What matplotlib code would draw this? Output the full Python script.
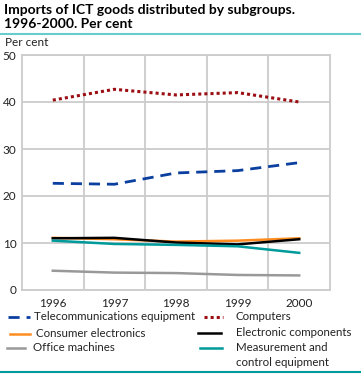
import matplotlib
matplotlib.use('Agg')
import matplotlib.pyplot as plt
from matplotlib.lines import Line2D

years = ['1996', '1997', '1998', '1999', '2000']
telecom = [22.7, 22.5, 24.9, 25.4, 27.1]
computers = [40.4, 42.7, 41.5, 42.0, 40.0]
consumer = [11.1, 10.8, 10.3, 10.5, 11.0]
components = [11.0, 11.1, 10.1, 9.7, 10.8]
office = [4.1, 3.7, 3.6, 3.2, 3.1]
measurement = [10.5, 9.8, 9.6, 9.3, 7.9]

plt.rcParams['font.family'] = ['Lato', 'DejaVu Sans']
grid_col = '#cccccc'
txt_col = '#222222'

fig = plt.figure(figsize=(3.61, 3.74), dpi=100)
ax = fig.add_axes([22 / 361, 1 - 290 / 374, 308 / 361, 235 / 374])

x = range(len(years))
series = [
    (telecom, '#0a3fa0', (0, (4, 2.5)), 2.0, 'Telecommunications equipment'),
    (computers, '#9b0f14', (0, (1, 1)), 2.2, 'Computers'),
    (consumer, '#ff8c1e', '-', 1.8, 'Consumer electronics'),
    (components, '#000000', '-', 1.8, 'Electronic components'),
    (office, '#999999', '-', 1.8, 'Office machines'),
    (measurement, '#009a9a', '-', 1.8, 'Measurement and\ncontrol equipment'),
]
for vals, col, ls, lw, lab in series:
    ax.plot(x, vals, color=col, linestyle=ls, linewidth=lw)

ax.set_xlim(-0.5, 4.5)
ax.set_ylim(0, 50)
ax.set_yticks([0, 10, 20, 30, 40, 50])
ax.set_xticks(list(x))
ax.set_xticklabels(years)
ax.set_xticks([0.5, 1.5, 2.5, 3.5], minor=True)
ax.grid(axis='y', color=grid_col, linewidth=1.3)
ax.grid(axis='x', which='minor', color=grid_col, linewidth=1.3)
ax.set_axisbelow(True)
ax.tick_params(axis='both', which='both', length=0, labelsize=8.5, colors=txt_col)
ax.tick_params(axis='x', pad=6)
ax.tick_params(axis='y', pad=4)
for s in ax.spines.values():
    s.set_color(grid_col)
    s.set_linewidth(1.3)

fig.text(4 / 361, 1 - 4 / 374, 'Imports of ICT goods distributed by subgroups.\n1996-2000. Per cent',
         fontsize=10, fontweight='bold', va='top', ha='left', linespacing=1.15)
fig.add_artist(Line2D([0, 1], [1 - 33.5 / 374] * 2, color='#66cccc', linewidth=1.5))
fig.add_artist(Line2D([0, 1], [1 - 372 / 374] * 2, color='#009a9a', linewidth=1.5))
fig.text(5 / 361, 1 - 43 / 374, 'Per cent', fontsize=8.5, va='center', ha='left', color=txt_col)

# legend, placed by hand
leg_pos = [
    (8, 30, 34, 317),
    (204, 223, 235, 317),
    (10, 30, 36, 334),
    (198, 221, 236, 333),
    (7, 25, 33, 348),
    (200, 222, 236, 348),
]
for (vals, col, ls, lw, lab), (x0, x1, tx, ty) in zip(series, leg_pos):
    fig.add_artist(Line2D([x0 / 361, x1 / 361], [1 - ty / 374] * 2, color=col,
                          linestyle=ls, linewidth=lw))
    fig.text(tx / 361, 1 - (ty - 6) / 374, lab, fontsize=8.3, va='top', ha='left',
             color=txt_col, linespacing=1.4)

fig.savefig('out.png', dpi=100)
